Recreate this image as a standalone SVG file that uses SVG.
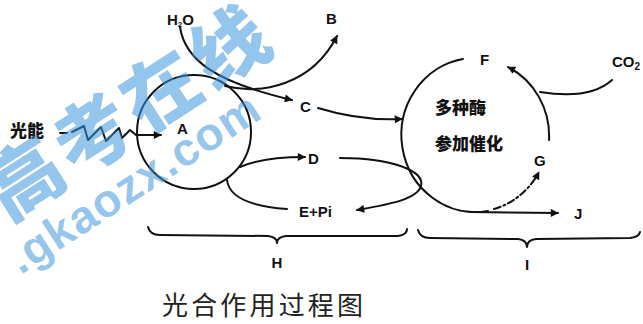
<svg xmlns="http://www.w3.org/2000/svg" width="643" height="324" viewBox="0 0 643 324">
<defs>
<marker id="ah" viewBox="0 0 10 10" refX="9" refY="5" markerWidth="10" markerHeight="8" markerUnits="userSpaceOnUse" orient="auto"><path d="M0,0 L10,5 L0,10 z" fill="#111"/></marker>
<style>
.ln{fill:none;stroke:#111;stroke-width:2;stroke-linecap:round;stroke-linejoin:round}
.ar{marker-end:url(#ah)}
.lb{font-family:"Liberation Sans","Noto Sans CJK SC",sans-serif;font-weight:bold;font-size:15px;fill:#111}
.cn{font-family:"Noto Sans CJK SC",sans-serif;font-weight:900;fill:#111}
.wm{fill:#3d95dc;fill-opacity:0.55}
</style>
</defs>
<rect width="643" height="324" fill="#fff"/>

<g id="leftCircle"><circle cx="194" cy="132" r="57" class="ln"/></g>
<g id="rightCycle">
<path class="ln" d="M463,59 A74,77 0 1 0 488,211"/>
<path class="ln ar" d="M494,209 A74,77 0 0 0 539,172" stroke-dasharray="7 3 2 3"/>
<path class="ln ar" d="M549,140 A74,77 0 0 0 508,67"/>
</g>

<g id="connectors">
<path class="ln" d="M60,133 L67,133"/>
<path class="ln ar" d="M72,132 L84,126 L88,140 L101,127 L106,141 L119,128 L122,138 L130,130 L136,135 L161,135"/>
<path class="ln ar" d="M180,27 C185,60 215,82 292,100"/>
<path class="ln ar" d="M225,86 C262,95 312,85 337,36"/>
<path class="ln ar" d="M318,108 Q360,121 402,119"/>
<path class="ln ar" d="M240,167 Q262,157 305,157"/>
<path class="ln" d="M227,180 Q230,205 287,209"/>
<path class="ln ar" d="M340,158 C395,158 425,172 421,186 C417,200 385,205 357,210"/>
<path class="ln ar" d="M470,212 L558,213"/>
<path class="ln" d="M612,80 Q590,100 540,92"/>
</g>

<g id="braceH"><path class="ln" d="M148,227 Q150,235 160,235 L268,236 Q277,237 277,243 Q277,237 286,236 L398,236 Q407,235 407,229"/></g>
<g id="braceI"><path class="ln" d="M418,230 Q420,238 430,238 L518,239 Q527,240 527,247 Q527,240 536,239 L630,238 Q639,237 640,232"/></g>

<g id="light"><text class="cn" x="10" y="137" font-size="17">光能</text></g>
<g id="A"><text class="lb" x="177" y="134" font-size="14">A</text></g>
<g id="H2O"><text class="lb" x="167" y="25">H<tspan font-size="8" dy="2">2</tspan><tspan dy="-2">O</tspan></text></g>
<g id="B"><text class="lb" x="326" y="24">B</text></g>
<g id="C"><text class="lb" x="300" y="112">C</text></g>
<g id="D"><text class="lb" x="308" y="164">D</text></g>
<g id="EPi"><text class="lb" x="299" y="217">E+Pi</text></g>
<g id="F"><text class="lb" x="480" y="65">F</text></g>
<g id="G"><text class="lb" x="534" y="166">G</text></g>
<g id="J"><text class="lb" x="574" y="219">J</text></g>
<g id="CO2"><text class="lb" x="612" y="67" font-size="16">CO<tspan font-size="10" dy="3">2</tspan></text></g>
<g id="enzyme"><text class="cn" x="435" y="114" font-size="17">多种酶</text><text class="cn" x="435" y="150" font-size="17">参加催化</text></g>
<g id="H"><text class="lb" x="277" y="268" text-anchor="middle">H</text></g>
<g id="I"><text class="lb" x="527" y="270" text-anchor="middle">I</text></g>
<g id="caption"><text x="162" y="315" font-family="'Noto Sans CJK SC',sans-serif" font-size="26" fill="#222" textLength="201">光合作用过程图</text></g>

<g id="watermark">
<text class="wm" transform="translate(126,107) rotate(-32.7)" x="0" y="0" text-anchor="middle" dominant-baseline="central" font-family="'Noto Sans CJK SC',sans-serif" font-weight="900" font-size="76" letter-spacing="5">高考在线</text>
<text class="wm" transform="translate(136,187) rotate(-33)" x="0" y="11" text-anchor="middle" font-family="'Liberation Sans',sans-serif" font-weight="bold" font-size="46" textLength="290">.gkaozx.com</text>
</g>
</svg>
